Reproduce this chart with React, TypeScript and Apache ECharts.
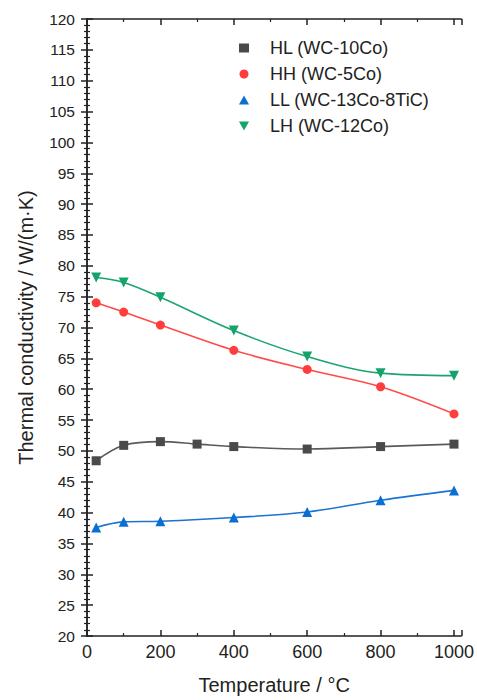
import React, { useEffect, useRef } from "react";
import * as echarts from "echarts";

const temperatures = [25, 100, 200, 300, 400, 600, 800, 1000];
const tempsNo300 = [25, 100, 200, 400, 600, 800, 1000];
const hlValues = [48.4, 50.9, 51.5, 51.1, 50.7, 50.3, 50.7, 51.1];
const hhValues = [74.0, 72.5, 70.4, 66.3, 63.2, 60.4, 56.0];
const llValues = [37.6, 38.5, 38.6, 39.2, 40.1, 42.0, 43.6];
const lhValues = [78.1, 77.3, 74.9, 69.5, 65.3, 62.6, 62.2];
const seriesNames = ["HL (WC-10Co)", "HH (WC-5Co)", "LL (WC-13Co-8TiC)", "LH (WC-12Co)"];
const seriesColors = ["#4a4a4a", "#ff3d3d", "#0a6fd2", "#13a36b"];
const lineColors = ["#5a5a5a", "#ff4a4a", "#1a74d0", "#1aa56e"];

const FONT = "'Liberation Sans', Arial, sans-serif";
const downTri = "path://M0,0L10,0L5,9Z";
const symbols = ["rect", "circle", "triangle", downTri];
const symbolSizes = [9, 9, 10, 10];

const pairs = (xs: number[], ys: number[]) => xs.map((x, i) => [x, ys[i]]);

export default function App() {
  const ref = useRef<HTMLDivElement>(null);
  useEffect(() => {
    if (!ref.current) return;
    const chart = echarts.init(ref.current, undefined, { renderer: "svg" });
    const datasets = [
      pairs(temperatures, hlValues),
      pairs(tempsNo300, hhValues),
      pairs(tempsNo300, llValues),
      pairs(tempsNo300, lhValues),
    ];
    const axisLine = { show: true, lineStyle: { color: "#222", width: 1.5 } };
    const tick = { show: true, inside: true, length: 6, lineStyle: { color: "#222", width: 1.5 } };
    chart.setOption({
      animation: false,
      textStyle: { fontFamily: FONT },
      grid: { left: 87, right: 10, top: 19, bottom: 58 },
      legend: {
        orient: "vertical",
        left: 234,
        top: 34,
        itemWidth: 10,
        itemHeight: 9,
        itemGap: 8,
        textStyle: { fontSize: 18, color: "#222", fontFamily: FONT, padding: [0, 0, 0, 16] },
        data: seriesNames.map((n, i) => ({ name: n, icon: symbols[i] })),
      },
      xAxis: [
        {
          type: "value",
          min: 0,
          max: 1020,
          interval: 200,
          position: "bottom",
          name: "Temperature / °C",
          nameLocation: "middle",
          nameGap: 39,
          nameTextStyle: { fontSize: 20, color: "#222", fontFamily: FONT },
          axisLine,
          axisTick: tick,
          minorTick: { show: true, splitNumber: 2, length: 3, lineStyle: { color: "#222", width: 1.2 } },
          axisLabel: {
            fontSize: 18,
            color: "#222",
            margin: 7,
            fontFamily: FONT,
            showMaxLabel: false,
            formatter: (v: number) => (v % 200 === 0 ? String(v) : ""),
          },
          splitLine: { show: false },
        },
        {
          type: "value",
          min: 0,
          max: 1020,
          interval: 200,
          position: "top",
          axisLine,
          axisTick: tick,
          minorTick: { show: true, splitNumber: 2, length: 3, lineStyle: { color: "#222", width: 1.2 } },
          axisLabel: { show: false },
          splitLine: { show: false },
        },
      ],
      yAxis: [
        {
          type: "value",
          min: 20,
          max: 120,
          interval: 5,
          position: "left",
          name: "Thermal conductivity / W/(m·K)",
          nameLocation: "middle",
          nameGap: 51,
          nameTextStyle: { fontSize: 20, color: "#222", fontFamily: FONT },
          axisLine,
          axisTick: tick,
          minorTick: { show: true, splitNumber: 5, length: 3, lineStyle: { color: "#222", width: 1.2 } },
          axisLabel: { fontSize: 15.5, color: "#222", margin: 12, fontFamily: FONT },
          splitLine: { show: false },
        },
        {
          type: "value",
          min: 20,
          max: 120,
          interval: 5,
          position: "right",
          axisLine,
          axisTick: tick,
          minorTick: { show: true, splitNumber: 5, length: 3, lineStyle: { color: "#222", width: 1.2 } },
          axisLabel: { show: false },
          splitLine: { show: false },
        },
      ],
      series: seriesNames.map((name, i) => ({
        name,
        type: "line",
        xAxisIndex: 0,
        yAxisIndex: 0,
        data: datasets[i],
        smooth: 0.35,
        symbol: symbols[i],
        symbolSize: symbolSizes[i],
        showAllSymbol: true,
        itemStyle: { color: seriesColors[i] },
        lineStyle: { color: lineColors[i], width: 1.6 },
        z: 3,
      })),
    });
    return () => chart.dispose();
  }, []);
  return (
    <div
      ref={ref}
      style={{ position: "fixed", left: 0, top: 0, width: 477, height: 700, background: "#fff" }}
    />
  );
}
